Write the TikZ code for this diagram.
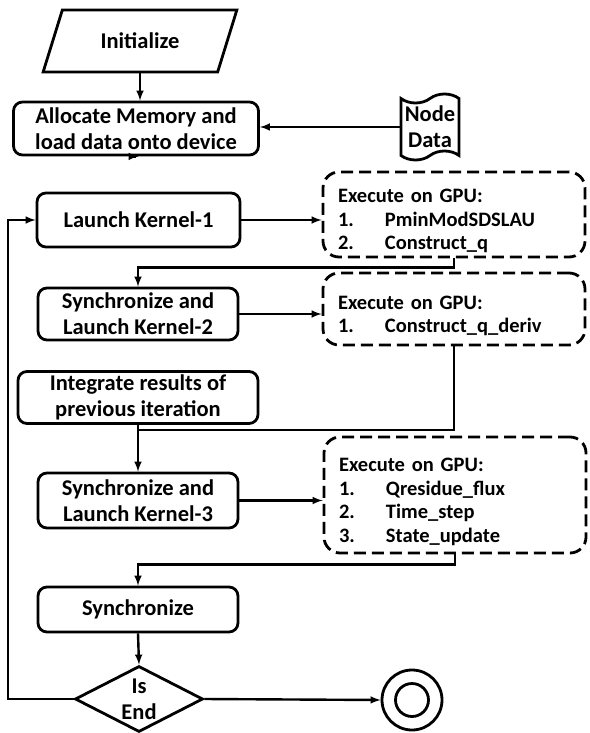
\documentclass[tikz,border=0pt]{standalone}
\usepackage{fontspec}
\setmainfont{Carlito}
\usetikzlibrary{shapes.geometric,shapes.symbols}

\newcommand{\boxfont}{\fontsize{22.5}{26}\selectfont\bfseries}
\newcommand{\gpufont}{\fontsize{20.5}{23.5}\selectfont\bfseries}
\newcommand{\gpuitem}[2]{\makebox[47pt][l]{#1}#2}
\newcommand{\gpuhead}{\rule{0pt}{27pt}Execute on GPU:}

\tikzset{
  procbox/.style={draw, line width=2.8pt, rounded corners=9pt, minimum width=200pt, minimum height=52pt, align=center, font=\boxfont},
  gpubox/.style={draw, line width=2.8pt, dash pattern=on 12pt off 6pt, rounded corners=16pt, text width=232pt, inner xsep=15pt, inner ysep=2pt, align=left, font=\gpufont},
  link/.style={line width=2.4pt, -latex},
  wire/.style={line width=2.4pt},
}

\begin{document}
\begin{tikzpicture}[x=1pt,y=-1pt]
      \useasboundingbox (0,0) rectangle (589,733);

      % main flow
      \node[draw, line width=2.8pt, trapezium, trapezium left angle=65, trapezium right angle=115, trapezium stretches=true, minimum width=194pt, minimum height=62pt, font=\boxfont] (init) at (140,41) {Initialize};
      \node[procbox, minimum width=245pt, minimum height=53pt] (alloc) at (136,128.5) {Allocate Memory and\\load data onto device};
      \node[procbox, minimum width=203pt, minimum height=54pt] (launch1) at (138.5,220) {Launch Kernel-1};
      \node[procbox] (sync2) at (138,314) {Synchronize and\\Launch Kernel-2};
      \node[procbox, minimum width=240pt, minimum height=51pt] (integ) at (138,397.5) {Integrate results of\\previous iteration};
      \node[procbox, minimum height=55pt] (sync3) at (138,500.5) {Synchronize and\\Launch Kernel-3};
      \node[procbox, minimum height=45pt] (syncf) at (138,609.5) {Synchronize};
      \node[draw, line width=2.8pt, diamond, aspect=2, inner sep=0pt, minimum width=128pt, minimum height=66pt, align=center, font=\boxfont] (isend) at (139,699) {Is\\End};
      \node[draw, line width=2.8pt, circle, minimum size=60pt] (stop) at (412,700) {};
      \draw[line width=2.8pt] (stop.center) circle (16.5);

      % data source
      \node[draw, line width=2.8pt, tape, tape bend top=in and out, tape bend bottom=in and out, tape bend height=9pt, inner sep=1pt, minimum width=58pt, minimum height=66pt, align=center, font=\boxfont] (data) at (430,127) {Node\\Data};

      % GPU kernels
      \node[gpubox, minimum height=85pt] (gpua) at (454,214.5) {\gpuhead\\\gpuitem{1.}{PminModSDSLAU}\\\gpuitem{2.}{Construct\_q}};
      \node[gpubox, minimum height=72pt] (gpub) at (454,309) {\gpuhead\\\gpuitem{1.}{Construct\_q\_deriv}};
      \node[gpubox, minimum height=116pt] (gpuc) at (455,495) {\gpuhead\\\gpuitem{1.}{Qresidue\_flux}\\\gpuitem{2.}{Time\_step}\\\gpuitem{3.}{State\_update}};

      \coordinate (loopx) at (8,0);
      \coordinate (joinb) at (138,430);

      \draw[link] (init.south) -- (init.south |- alloc.north);
      \draw[link] (data.west) -- (data.west -| alloc.east);
      \draw[link] (alloc.south) -- (alloc.south -| launch1.north);
      \draw[link] (launch1.east) -- (launch1.east -| gpua.west);
      \draw[link] (gpua.south) -- ++(0,9) -| (sync2.north);
      \draw[link] (sync2.east) -- (sync2.east -| gpub.west);
      \draw[wire] (gpub.south) |- (joinb);
      \draw[link] (integ.south) -- (sync3.north);
      \draw[link] (sync3.east) -- (sync3.east -| gpuc.west);
      \draw[link] (gpuc.south) -- ++(0,10) -| (syncf.north);
      \draw[link] (syncf.south) -- (isend.north);
      \draw[link] (isend.east) -- (stop.west);
      \draw[link] (isend.west) -- (isend.west -| loopx) |- (launch1.west);
\end{tikzpicture}
\end{document}
